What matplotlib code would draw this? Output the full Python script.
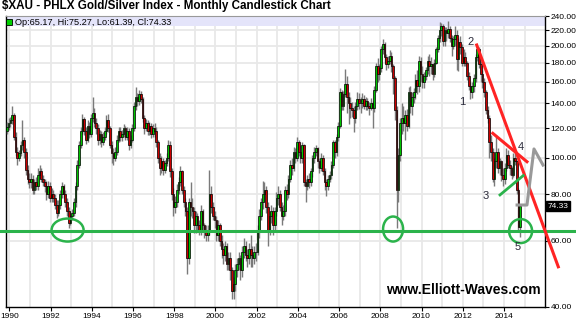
import numpy as np
import matplotlib
matplotlib.use('Agg')
import matplotlib.pyplot as plt
import matplotlib.transforms as mtransforms
from matplotlib.patches import Ellipse, Rectangle
from matplotlib.ticker import FixedLocator, NullLocator, FuncFormatter

plt.rcParams['font.family'] = ['Liberation Sans', 'DejaVu Sans']

# monthly candles, Nov 1989 .. Oct 2014
start_year, start_month = 1989, 11
first_open = 118

closes = [
    121, 124,
    126, 130, 114, 104, 100, 103, 108, 112, 104, 93, 88, 86,
    88, 82, 86, 84, 90, 92, 88, 86, 84, 80, 84, 78,
    80, 78, 75, 71, 75, 80, 84, 80, 76, 72, 67, 70,
    71, 76, 84, 96, 108, 118, 127, 118, 112, 122, 116, 128,
    132, 124, 120, 112, 116, 110, 114, 118, 126, 120, 108, 103,
    100, 104, 112, 118, 114, 116, 120, 114, 118, 108, 112, 120,
    138, 146, 142, 148, 144, 128, 120, 124, 118, 122, 116, 120,
    118, 110, 100, 94, 98, 93, 97, 100, 108, 92, 80, 74,
    76, 82, 86, 92, 82, 76, 72, 54, 76, 74, 72, 66,
    70, 66, 64, 72, 66, 64, 62, 64, 80, 74, 70, 68,
    62, 66, 60, 57, 55, 58, 52, 54, 50, 44, 46, 50,
    52, 54, 50, 56, 58, 55, 54, 57, 55, 54, 56, 56,
    64, 70, 76, 80, 82, 74, 64, 70, 72, 66, 72, 78,
    80, 74, 70, 72, 82, 80, 88, 96, 94, 104, 100, 110,
    104, 100, 108, 86, 84, 88, 86, 92, 100, 104, 106, 98,
    94, 100, 92, 86, 84, 88, 90, 96, 110, 104, 114, 122,
    150, 138, 148, 158, 146, 140, 136, 134, 128, 138, 144, 140,
    140, 144, 138, 142, 138, 136, 140, 136, 152, 176, 168, 174,
    196, 202, 186, 178, 182, 188, 176, 164, 134, 82, 102, 124,
    128, 124, 130, 122, 150, 138, 146, 150, 162, 156, 182, 168,
    160, 166, 172, 182, 176, 178, 168, 180, 196, 210, 220, 226,
    206, 220, 216, 222, 210, 200, 208, 214, 184, 204, 198, 180,
    186, 180, 166, 156, 150, 156, 164, 186, 196, 178, 168, 160,
    150, 134, 128, 110, 104, 88, 98, 104, 94, 98, 90, 88,
    94, 102, 96, 94, 90, 100, 98, 82, 65.17, 74.33,
]

highs = [
    125, 128,
    129, 138, 132, 117, 107, 105, 111, 126, 114, 106, 96, 91,
    91, 90, 88, 89, 94, 96, 94, 90, 88, 87, 87, 86,
    83, 82, 80, 77, 77, 82, 86, 85, 82, 78, 74, 72,
    73, 78, 86, 99, 111, 121, 131, 129, 121, 126, 125, 131,
    146, 136, 128, 123, 119, 118, 117, 121, 130, 131, 122, 111,
    106, 107, 115, 121, 121, 119, 123, 122, 121, 120, 115, 123,
    141, 155, 149, 152, 151, 146, 130, 127, 126, 125, 124, 123,
    124, 121, 112, 103, 101, 100, 99, 103, 112, 111, 94, 83,
    79, 85, 89, 95, 93, 84, 78, 74, 78, 86, 78, 74,
    72, 71, 68, 75, 73, 67, 66, 66, 93, 84, 76, 72,
    70, 68, 67, 62, 59, 60, 59, 56, 56, 51, 48, 52,
    54, 56, 55, 58, 61, 60, 57, 59, 62, 58, 58, 59,
    66, 73, 78, 87, 86, 84, 76, 72, 75, 74, 74, 81,
    84, 82, 76, 75, 84, 85, 90, 99, 100, 107, 106, 114,
    112, 108, 110, 109, 88, 90, 91, 94, 102, 107, 108, 107,
    100, 103, 102, 94, 88, 90, 92, 98, 112, 112, 116, 125,
    154, 152, 151, 173, 166, 150, 146, 141, 138, 141, 150, 149,
    146, 149, 147, 146, 145, 141, 145, 142, 156, 180, 185, 178,
    200, 208, 204, 190, 188, 194, 192, 178, 166, 138, 106, 128,
    140, 138, 134, 135, 155, 156, 150, 154, 168, 172, 188, 186,
    176, 170, 175, 188, 190, 186, 180, 184, 198, 214, 231, 230,
    228, 224, 224, 232, 226, 214, 212, 226, 220, 210, 212, 202,
    196, 192, 182, 170, 160, 160, 168, 190, 200, 198, 182, 172,
    164, 152, 138, 130, 115, 106, 100, 115, 106, 100, 99, 94,
    97, 106, 105, 99, 95, 103, 104, 99, 83, 75.27,
]

lows = [
    116, 119,
    121, 123, 112, 101, 96, 98, 101, 105, 100, 90, 85, 83,
    83, 80, 80, 82, 82, 88, 86, 84, 81, 77, 78, 76,
    76, 76, 73, 69, 70, 73, 78, 78, 74, 70, 65, 66,
    68, 70, 74, 82, 94, 106, 116, 115, 109, 110, 113, 114,
    125, 121, 116, 108, 109, 107, 108, 112, 116, 117, 106, 97,
    96, 98, 102, 110, 111, 111, 114, 112, 112, 105, 106, 110,
    118, 134, 138, 139, 140, 125, 116, 118, 115, 115, 113, 114,
    114, 107, 97, 90, 91, 90, 91, 95, 98, 89, 77, 70,
    71, 74, 80, 84, 80, 74, 70, 49, 52, 70, 69, 63,
    63, 64, 62, 62, 64, 61, 60, 60, 62, 71, 68, 65,
    60, 60, 58, 54, 52, 53, 50, 50, 47, 42, 42, 44,
    48, 50, 47, 48, 54, 53, 51, 52, 51, 51, 52, 53,
    55, 61, 68, 73, 76, 71, 58, 62, 67, 62, 64, 70,
    75, 72, 66, 68, 70, 77, 78, 86, 90, 92, 97, 98,
    101, 97, 97, 84, 76, 82, 83, 84, 89, 97, 101, 94,
    91, 92, 90, 82, 79, 82, 86, 88, 94, 100, 101, 111,
    120, 134, 134, 146, 132, 123, 128, 129, 117, 124, 134, 135,
    132, 136, 135, 134, 134, 130, 134, 120, 133, 150, 160, 162,
    170, 190, 180, 172, 174, 178, 170, 148, 126, 65, 76, 98,
    116, 118, 112, 118, 120, 132, 130, 140, 144, 148, 150, 160,
    154, 154, 162, 168, 166, 168, 162, 165, 178, 192, 204, 212,
    200, 200, 206, 210, 204, 188, 196, 200, 172, 171, 190, 176,
    176, 176, 162, 152, 144, 145, 150, 160, 182, 174, 160, 154,
    146, 131, 124, 100, 98, 86, 84, 94, 91, 90, 87, 84,
    85, 92, 94, 90, 88, 89, 96, 80, 64, 61.39,
]

price_ticks = [40, 60, 80, 100, 120, 140, 160, 180, 200, 220, 240]
grid_prices = [60, 80, 100, 120, 140, 160, 180, 200, 220]
year_labels = list(range(1990, 2015, 2))
last_price = 74.33

# hand drawn wave annotations, (date, price)
support_level = 63.7
red_long = ([2012.68, 2016.64], [200.7, 51.1])
red_short = ([2013.46, 2015.12], [116.4, 97.7])
green_trend = ([2013.81, 2014.94], [79.6, 89.7])
projection = ([2014.64, 2015.12, 2015.46, 2015.90], [74.8, 74.8, 105.7, 95.7])
circles = [(1992.82, 64.1, 32, 23), (2008.62, 64.5, 20, 25), (2014.81, 63.7, 23, 24)]
wave_labels = [('1', 2012.0, 141), ('2', 2012.4, 204), ('3', 2013.13, 79),
               ('4', 2014.83, 107), ('5', 2014.68, 57.7)]

n = len(closes)
dates = np.array([start_year + (start_month - 1 + i) / 12 + 1 / 24 for i in range(n)])
closes_a = np.array(closes, dtype=float)
opens_a = np.array([first_open] + closes[:-1], dtype=float)
up = closes_a >= opens_a
body_lo = np.minimum(opens_a, closes_a)
body_hi = np.maximum(opens_a, closes_a)

fig = plt.figure(figsize=(5.76, 3.2), dpi=100)
ax = fig.add_axes([5.5 / 576, 13.5 / 320, 539.5 / 576, 290.5 / 320])

ax.set_yscale('log')
ax.set_xlim(1989.806, 2015.995)
ax.set_ylim(40, 240)

# grid
for yr in range(1990, 2016):
    ax.axvline(yr, color='#e8e8e8', lw=1.3, zorder=0)
for p in grid_prices:
    ax.axhline(p, color='#e8e8e8', lw=1.3, zorder=0)

# legend band
ax.add_patch(Rectangle((0, 0.9656), 1, 0.0344, transform=ax.transAxes,
                       facecolor='#e4e4fa', edgecolor='none', zorder=1))

# candles
ax.vlines(dates, lows, highs, color='#7a7a7a', lw=1.0, zorder=3)
ax.bar(dates, body_hi - body_lo, bottom=body_lo, width=0.95 / 12,
       color=np.where(up, '#00c400', '#cc0000'), edgecolor='black',
       linewidth=0.5, zorder=4)

# support line across the whole figure
blend = mtransforms.blended_transform_factory(fig.transFigure, ax.transData)
ax.plot([0, 1], [support_level, support_level], color='#2bb34b', lw=2.2,
        transform=blend, clip_on=False, zorder=6)

ax.plot(*red_long, color='#ff2424', lw=2.2, clip_on=False, zorder=7)
ax.plot(*red_short, color='#ff2424', lw=2.2, clip_on=False, zorder=7)
ax.plot(*green_trend, color='#2bb34b', lw=2.0, clip_on=False, zorder=7)
ax.plot(*projection, color='#999999', lw=2.2, clip_on=False, zorder=7)

for cx, cy, w, h in circles:
    tr = fig.dpi_scale_trans + mtransforms.ScaledTranslation(cx, cy, ax.transData)
    ax.add_patch(Ellipse((0, 0), w / 100, h / 100, transform=tr, fill=False,
                         edgecolor='#2bb34b', lw=1.8, clip_on=False, zorder=7))

for txt, x, y in wave_labels:
    ax.text(x, y, txt, fontsize=8, color='#2a2a3a', ha='center', va='center', zorder=8)

# axes styling
ax.yaxis.tick_right()
ax.yaxis.set_major_locator(FixedLocator(price_ticks))
ax.yaxis.set_minor_locator(NullLocator())
ax.yaxis.set_major_formatter(FuncFormatter(lambda v, pos: f'{v:.2f}'))
ax.set_xticks(year_labels)
ax.set_xticklabels([str(y) for y in year_labels])
ax.tick_params(axis='y', direction='out', length=3, width=0.8, labelsize=6, pad=1)
ax.tick_params(axis='x', direction='out', length=3, width=0.8, labelsize=6, pad=1.5)
for side in ['left', 'right', 'bottom']:
    ax.spines[side].set_color('black')
    ax.spines[side].set_linewidth(1.0)
ax.spines['top'].set_color('#999999')
ax.spines['top'].set_linewidth(0.8)

# last price tag
tag = mtransforms.blended_transform_factory(ax.transAxes, ax.transData)
ax.text(1.005, last_price, f'{last_price:.2f}', transform=tag, color='white',
        fontsize=6, ha='left', va='center',
        bbox=dict(boxstyle='square,pad=0.15', fc='black', ec='black'))

# legend text
ax.plot([0.0074], [0.979], marker='s', ms=4.5, mfc='#00d000', mec='black', mew=0.6,
        transform=ax.transAxes, clip_on=False, zorder=5)
ax.text(0.0176, 0.979, f'Op:{opens_a[-1]:.2f}, Hi:{highs[-1]:.2f}, Lo:{lows[-1]:.2f}, Cl:{closes[-1]:.2f}',
        transform=ax.transAxes, fontsize=6.6, ha='left', va='center', zorder=5)

fig.text(2 / 576, 1 - 6 / 320, '$XAU - PHLX Gold/Silver Index - Monthly Candlestick Chart',
         fontsize=8.4, fontweight='bold', ha='left', va='center')

ax.text(0.848, 0.057, 'www.Elliott-Waves.com', transform=ax.transAxes,
        fontsize=10, fontweight='bold', color='black', ha='center', va='center', zorder=8)

fig.savefig('out.png', dpi=100)
